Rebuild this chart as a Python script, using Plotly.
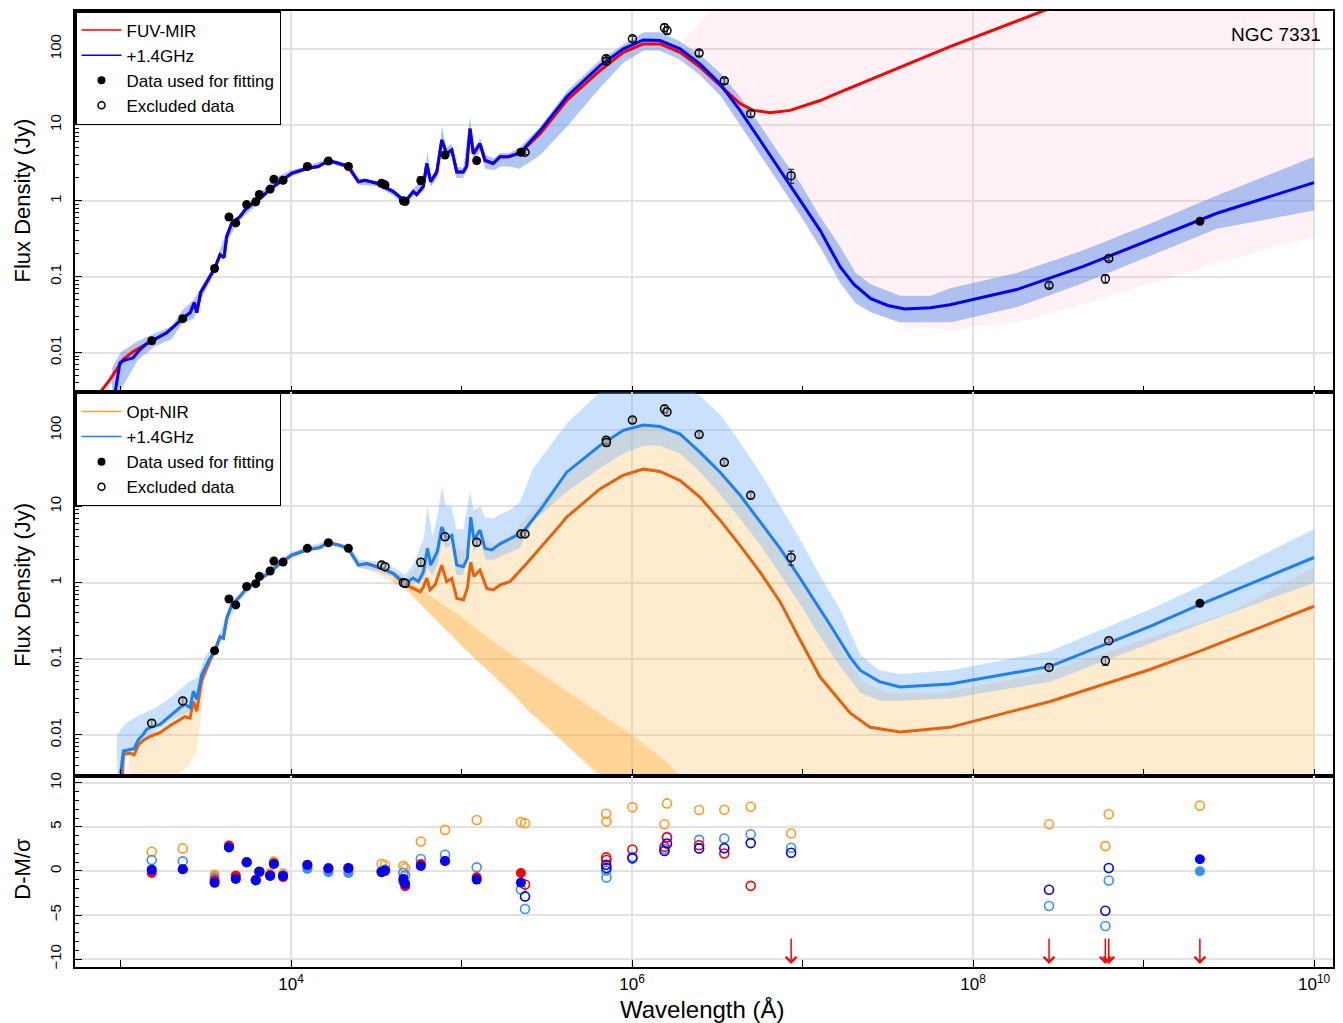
import math
import plotly.graph_objects as go

# ---------------- photometry (Angstrom, Jy) ----------------
wl = [1524, 2317, 3562, 4325, 4740, 5495, 6210, 6520, 7540, 7930, 8980, 12470, 16560, 21700,
      34000, 35560, 45600, 46700, 57700, 80000, 122700, 223000, 235700, 705000, 708000, 1005000,
      1550000, 1603000, 2474000, 3476000, 4966000, 8570000, 2.79e8, 5.97e8, 6.25e8, 2.14e9]
flux = [0.0143, 0.028, 0.128, 0.61, 0.51, 0.89, 0.97, 1.21, 1.42, 1.92, 1.86, 2.82, 3.34, 2.82,
        1.70, 1.62, 1.00, 0.98, 1.85, 4.0, 3.38, 4.35, 4.35, 74, 69, 136,
        190, 174, 88, 38, 14, 2.14, 0.077, 0.094, 0.173, 0.535]
flux_err = [0.0012, 0.0025, 0.01, 0.05, 0.04, 0.06, 0.06, 0.08, 0.08, 0.12, 0.10, 0.15, 0.18, 0.15,
            0.15, 0.12, 0.10, 0.10, 0.22, 0.35, 0.30, 0.30, 0.30, 8, 7, 10,
            22, 18, 7, 3, 1.2, 0.45, 0.006, 0.012, 0.01, 0.03]
used_top = [1]*22 + [0]*13 + [1]
used_mid = [0, 0] + [1]*12 + [0]*21 + [1]

# ---------------- residuals (D-M)/sigma ----------------
res_fuvmir = [-0.23, 0.19, -1.09, 2.89, -0.53, 0.98, -1.0, -0.08, -0.5, 0.85, -0.71, 0.7, 0.3, 0.35,
              -0.1, 0.0, -1.2, -1.73, 0.79, 1.13, -0.71, -0.23, -1.54, 1.54, 1.24, 2.44,
              2.74, 3.8, 2.93, 1.99, -1.69, None, None, None, None, None]
res_fuvmir_radio = [0.15, 0.19, -1.35, 2.67, -0.9, 0.98, -1.09, -0.08, -0.56, 0.79, -0.56, 0.68, 0.30, 0.30,
                    -0.15, 0.04, -0.9, -1.47, 0.56, 1.13, -0.98, -1.32, -2.89, 0.71, 0.34, 1.43,
                    2.26, 3.12, 2.56, 2.59, 3.16, 2.07, -2.14, -4.51, 0.34, 1.32]
res_optnir = [2.18, 2.56, -0.41, 2.8, -0.53, 1.0, -1.0, -0.05, -0.26, 1.09, -0.26, 0.35, 0.1, 0.05,
              0.79, 0.68, 0.55, 0.3, 3.35, 4.66, 5.79, 5.56, 5.41, 6.5, 5.6, 7.22,
              5.3, 7.67, 6.92, 6.95, 7.29, 4.25, 5.3, 2.82, 6.43, 7.41]
res_optnir_radio = [1.24, 1.09, -0.79, 2.7, -0.8, 0.95, -1.05, -0.1, -0.5, 0.85, -0.5, 0.23, -0.15, -0.23,
                    0.0, 0.15, -0.2, -0.5, 1.35, 1.84, 0.41, -2.1, -4.32, 0.04, -0.75, 1.62,
                    2.48, 3.87, 3.53, 3.68, 4.17, 2.63, -3.98, -6.24, -1.09, -0.04]
used_fuvmir = [1]*22 + [0]*14
used_fuvmir_radio = [1]*22 + [0]*13 + [1]
used_optnir = [0, 0] + [1]*12 + [0]*22
used_optnir_radio = [0, 0] + [1]*12 + [0]*21 + [1]

# ---------------- best-fit models (log10 wavelength, log10 flux) ----------------
top_shared_lw = [3.183, 3.271, 3.365, 3.408, 3.433, 3.447, 3.470, 3.525, 3.552, 3.584, 3.607, 3.623, 3.652,
                 3.701, 3.730, 3.779, 3.818, 3.877, 3.935, 4.004, 4.092, 4.160, 4.219, 4.268, 4.336, 4.395,
                 4.434, 4.503, 4.600, 4.669, 4.717, 4.737, 4.776, 4.796, 4.819, 4.855, 4.884, 4.913, 4.943,
                 4.972, 5.011, 5.030, 5.050, 5.069, 5.108, 5.138, 5.186, 5.226, 5.275, 5.343]
top_shared_lf = [-1.846, -1.74, -1.55, -1.475, -1.34, -1.475, -1.21, -0.99, -0.894, -0.71, -0.75, -0.47, -0.294,
                 -0.21, -0.12, -0.03, 0.03, 0.15, 0.25, 0.36, 0.425, 0.45, 0.526, 0.50, 0.45, 0.25,
                 0.27, 0.23, 0.12, -0.01, 0.12, 0.08, 0.19, 0.49, 0.25, 0.38, 0.80, 0.62, 0.67,
                 0.38, 0.38, 0.45, 0.95, 0.62, 0.75, 0.53, 0.49, 0.58, 0.58, 0.63]
red_head_lw = [2.880, 2.938, 3.015, 3.073, 3.132]
red_head_lf = [-2.525, -2.357, -2.09, -1.99, -1.91]
red_tail_lw = [5.460, 5.617, 5.812, 5.949, 6.066, 6.164, 6.282, 6.399, 6.516, 6.633, 6.711, 6.809, 6.927,
               7.103, 7.220, 7.865, 8.412, 8.700]
red_tail_lf = [0.88, 1.32, 1.715, 1.955, 2.066, 2.066, 1.955, 1.76, 1.52, 1.28, 1.19, 1.16, 1.19,
               1.32, 1.43, 2.03, 2.50, 2.75]
blue_head_lw = [2.968, 2.997, 3.026, 3.073, 3.114, 3.150]
blue_head_lf = [-2.525, -2.13, -2.10, -2.07, -1.96, -1.89]
blue_tail_lw = [5.460, 5.617, 5.812, 5.949, 6.066, 6.164, 6.282, 6.399, 6.516, 6.633, 6.750, 6.868, 6.985,
                7.103, 7.220, 7.300, 7.400, 7.500, 7.600, 7.750, 7.865, 8.256, 8.647, 9.038, 9.430, 10.0]
blue_tail_lf = [0.92, 1.37, 1.78, 2.0, 2.118, 2.109, 2.0, 1.80, 1.54, 1.19, 0.80, 0.40, 0.0,
                -0.39, -0.87, -1.10, -1.29, -1.38, -1.425, -1.41, -1.37, -1.17, -0.865, -0.516, -0.165, 0.238]

mid_shared_lw = [3.552, 3.584, 3.603, 3.623, 3.652, 3.701, 3.740, 3.799, 3.877, 3.935, 4.004, 4.092, 4.170,
                 4.219, 4.287, 4.336, 4.395, 4.444, 4.522, 4.600]
mid_shared_lf = [-0.90, -0.71, -0.73, -0.47, -0.29, -0.18, -0.07, 0.01, 0.14, 0.25, 0.36, 0.43, 0.46,
                 0.527, 0.49, 0.45, 0.23, 0.25, 0.196, 0.12]
midb_head_lw = [3.000, 3.017, 3.056, 3.080, 3.105, 3.134, 3.154, 3.183, 3.232, 3.290, 3.349, 3.378, 3.408,
                3.427, 3.447, 3.476, 3.525]
midb_head_lf = [-2.51, -2.21, -2.19, -2.18, -2.06, -1.99, -1.925, -1.895, -1.86, -1.75, -1.64, -1.60, -1.64,
                -1.425, -1.53, -1.21, -0.99]
midb_tail_lw = [4.669, 4.717, 4.747, 4.776, 4.800, 4.819, 4.858, 4.884, 4.913, 4.943, 4.972, 5.011, 5.034,
                5.054, 5.073, 5.108, 5.138, 5.177, 5.226, 5.275, 5.324, 5.362, 5.460, 5.617, 5.812, 5.949,
                6.066, 6.164, 6.282, 6.399, 6.516, 6.633, 6.750, 6.868, 6.985, 7.103, 7.160, 7.280, 7.337,
                7.450, 7.572, 7.865, 8.452, 9.038, 9.330, 10.0]
midb_tail_lf = [-0.01, 0.06, 0.013, 0.14, 0.45, 0.23, 0.405, 0.73, 0.58, 0.62, 0.23, 0.21, 0.32,
                0.86, 0.56, 0.69, 0.45, 0.43, 0.51, 0.56, 0.62, 0.67, 0.95, 1.45, 1.80, 2.0,
                2.07, 2.05, 1.95, 1.71, 1.45, 1.15, 0.80, 0.45, 0.06, -0.34, -0.55, -0.98, -1.15,
                -1.30, -1.37, -1.33, -1.10, -0.575, -0.29, 0.33]
orng_head_lw = [3.010, 3.017, 3.056, 3.080, 3.105, 3.134, 3.183, 3.232, 3.290, 3.349, 3.378, 3.408, 3.427,
                3.447, 3.476, 3.525]
orng_head_lf = [-2.60, -2.25, -2.24, -2.26, -2.13, -2.07, -2.01, -1.97, -1.88, -1.80, -1.76, -1.78, -1.56,
                -1.69, -1.29, -1.02]
orng_tail_lw = [4.669, 4.717, 4.757, 4.776, 4.796, 4.815, 4.845, 4.884, 4.913, 4.943, 4.972, 5.011, 5.034,
                5.054, 5.073, 5.108, 5.148, 5.186, 5.226, 5.284, 5.382, 5.578, 5.617, 5.812, 5.949, 6.066,
                6.164, 6.282, 6.399, 6.516, 6.633, 6.750, 6.868, 6.985, 7.103, 7.279, 7.396, 7.572, 7.865,
                8.452, 9.038, 9.330, 10.0]
orng_tail_lf = [-0.03, -0.075, -0.12, -0.06, 0.06, -0.095, -0.03, 0.23, 0.013, 0.056, -0.205, -0.226, -0.075,
                0.27, 0.08, 0.166, -0.075, -0.095, -0.03, 0.013, 0.25, 0.755, 0.86, 1.23, 1.41, 1.49,
                1.46, 1.34, 1.12, 0.82, 0.49, 0.14, -0.25, -0.75, -1.24, -1.71, -1.90, -1.96, -1.90,
                -1.56, -1.14, -0.90, -0.31]

# ---------------- posterior sample envelopes (log10) ----------------
tband_lw = [2.95, 3.0, 3.1, 3.2, 3.3, 3.36, 3.43, 3.47, 3.55, 3.62, 3.7, 3.8, 3.9, 4.0, 4.1, 4.22, 4.34, 4.4,
            4.5, 4.6, 4.67, 4.72, 4.78, 4.80, 4.82, 4.86, 4.885, 4.91, 4.94, 4.97, 5.01, 5.05, 5.07, 5.11,
            5.14, 5.19, 5.23, 5.28, 5.34, 5.46, 5.62, 5.81, 5.95, 6.07, 6.16, 6.28, 6.40, 6.52, 6.63, 6.75,
            6.87, 6.99, 7.10, 7.22, 7.31, 7.40, 7.57, 7.75, 7.87, 8.26, 8.65, 9.04, 9.43, 10.0]
tband_lo = [-2.6, -2.5, -2.1, -1.92, -1.82, -1.62, -1.55, -1.3, -0.95, -0.55, -0.25, -0.06, 0.2, 0.32, 0.4, 0.49,
            0.42, 0.21, 0.19, 0.07, -0.07, 0.07, 0.13, 0.38, 0.18, 0.32, 0.72, 0.55, 0.6, 0.3, 0.3, 0.8, 0.52,
            0.66, 0.42, 0.40, 0.45, 0.45, 0.42, 0.6, 0.98, 1.48, 1.82, 1.98, 1.98, 1.86, 1.65, 1.38, 1.0, 0.6,
            0.2, -0.2, -0.6, -1.08, -1.35, -1.47, -1.6, -1.6, -1.6, -1.4, -1.08, -0.72, -0.37, -0.13]
tband_hi = [-2.2, -2.0, -1.85, -1.75, -1.65, -1.45, -1.3, -1.15, -0.85, -0.42, -0.17, 0.03, 0.3, 0.4, 0.46, 0.56,
            0.48, 0.29, 0.26, 0.15, 0.02, 0.17, 0.26, 0.65, 0.3, 0.45, 0.98, 0.7, 0.75, 0.45, 0.43, 1.1, 0.68,
            0.82, 0.6, 0.56, 0.63, 0.63, 0.70, 0.97, 1.45, 1.85, 2.06, 2.22, 2.22, 2.1, 1.92, 1.68, 1.38, 1.0,
            0.6, 0.22, -0.2, -0.6, -0.95, -1.1, -1.25, -1.25, -1.15, -0.95, -0.65, -0.3, 0.07, 0.58]
pink_lw = [6.30, 6.40, 6.50, 6.60, 6.75, 6.90, 7.05, 7.20, 7.40, 7.60, 7.90, 8.30, 8.70, 9.10, 9.50, 10.0]
pink_lo = [1.9, 1.68, 1.45, 1.1, 0.6, 0.1, -0.45, -0.95, -1.45, -1.66, -1.7, -1.58, -1.33, -1.05, -0.78, -0.47]
pink_hi = [2.1, 2.35, 2.6, 2.6, 2.6, 2.6, 2.6, 2.6, 2.6, 2.6, 2.6, 2.6, 2.6, 2.6, 2.6, 2.6]

mband_lw = [2.98, 3.03, 3.1, 3.2, 3.3, 3.4, 3.45, 3.5, 3.55, 3.62, 3.7, 3.8, 3.9, 4.0, 4.1, 4.22, 4.34, 4.40,
            4.5, 4.6, 4.67, 4.72, 4.78, 4.80, 4.83, 4.86, 4.885, 4.91, 4.94, 4.97, 5.01, 5.05, 5.07, 5.11,
            5.14, 5.19, 5.23, 5.28, 5.34, 5.42, 5.62, 5.81, 5.95, 6.07, 6.16, 6.28, 6.40, 6.52, 6.63, 6.75,
            6.87, 6.99, 7.10, 7.22, 7.34, 7.45, 7.57, 7.87, 8.45, 9.04, 9.33, 10.0]
mband_lo = [-2.6, -2.3, -2.15, -1.95, -1.8, -1.7, -1.6, -1.1, -0.95, -0.52, -0.22, 0.0, 0.18, 0.33, 0.41, 0.5,
            0.42, 0.2, 0.15, 0.07, -0.05, 0.0, 0.05, 0.2, 0.1, 0.25, 0.55, 0.45, 0.5, 0.1, 0.1, 0.7, 0.4, 0.55,
            0.3, 0.3, 0.35, 0.4, 0.45, 0.8, 1.2, 1.5, 1.7, 1.8, 1.8, 1.7, 1.45, 1.15, 0.85, 0.5,
            0.1, -0.3, -0.7, -1.1, -1.45, -1.55, -1.55, -1.52, -1.3, -0.8, -0.55, -0.0]
mband_hi = [-2.0, -1.85, -1.75, -1.65, -1.5, -1.3, -1.25, -0.95, -0.85, -0.42, -0.15, 0.06, 0.26, 0.4, 0.47, 0.56,
            0.48, 0.3, 0.28, 0.2, 0.1, 0.25, 0.6, 1.0, 0.6, 0.9, 1.25, 1.0, 1.0, 0.7, 0.7, 1.2, 0.95, 1.0,
            0.85, 0.85, 0.9, 0.95, 1.05, 1.5, 2.1, 2.5, 2.7, 2.8, 2.8, 2.65, 2.45, 2.2, 1.85, 1.45,
            1.0, 0.55, 0.1, -0.35, -0.95, -1.15, -1.2, -1.15, -0.9, -0.35, -0.05, 0.7]
ofan_lw = [3.05, 3.2, 3.3, 3.4, 3.45, 3.5, 3.55, 3.7, 3.9, 4.1, 4.22, 4.34, 4.4, 4.5, 4.6, 4.67, 4.8, 4.9, 5.0,
           5.1, 5.2, 5.3, 5.4, 5.6, 5.8, 5.95, 6.1, 6.25, 6.4, 6.52, 6.63, 6.75, 6.87, 6.99, 7.1, 7.22, 7.35,
           7.5, 7.8, 8.4, 9.0, 9.5, 10.0]
ofan_lo = [-2.6, -2.6, -2.6, -2.4, -2.2, -1.2, -0.98, -0.23, 0.19, 0.41, 0.5, 0.42, 0.2, 0.12, 0.0, -0.08, -0.38,
           -0.6, -0.83, -1.05, -1.25, -1.45, -1.7, -2.1, -2.55, -2.6, -2.6, -2.6, -2.6, -2.6, -2.6, -2.6, -2.6,
           -2.6, -2.6, -2.6, -2.6, -2.6, -2.6, -2.6, -2.6, -2.6, -2.6]
ofan_hi = [-2.15, -1.95, -1.8, -1.65, -1.5, -1.05, -0.88, -0.17, 0.26, 0.46, 0.55, 0.47, 0.26, 0.22, 0.14, 0.05,
           0.35, 0.55, 0.4, 0.6, 0.5, 0.65, 0.9, 1.4, 1.8, 2.0, 2.1, 1.98, 1.72, 1.45, 1.15, 0.8, 0.45, 0.05,
           -0.35, -0.85, -1.3, -1.45, -1.45, -1.2, -0.75, -0.4, 0.2]
odense_lw = [4.60, 4.67, 4.8, 5.0, 5.2, 5.4, 5.6, 5.8, 6.0, 6.2, 6.35]
odense_lo = [0.0, -0.08, -0.38, -0.83, -1.25, -1.7, -2.1, -2.5, -2.7, -2.7, -2.7]
odense_hi = [0.14, 0.05, -0.15, -0.45, -0.8, -1.1, -1.4, -1.7, -2.0, -2.35, -2.7]

# ---------------- styling ----------------
RED, BLUE = '#FF0000', '#0000FF'
ORANGE_LINE, ORANGE_LEG = '#E8610C', '#F7A235'
DODGER = '#1E80F4'
RES_ORANGE, RES_DODGER = '#FF9A1F', '#3A8EFF'
FONT = 'Liberation Sans, Arial, Helvetica, sans-serif'

fig = go.Figure()


def pw(vals):
    return [10 ** v for v in vals]


def band(lw, lo, hi, color, xa, ya):
    x = pw(lw) + pw(lw[::-1])
    y = pw(hi) + pw(lo[::-1])
    return go.Scatter(x=x, y=y, mode='lines', fill='toself', fillcolor=color,
                      line=dict(width=0, color='rgba(0,0,0,0)'), hoverinfo='skip',
                      showlegend=False, xaxis=xa, yaxis=ya)


def line(lw, lf, color, width, xa, ya):
    return go.Scatter(x=pw(lw), y=pw(lf), mode='lines', line=dict(color=color, width=width),
                      showlegend=False, xaxis=xa, yaxis=ya, hoverinfo='skip')


def pick(vals, flags, want):
    return [v if f == want else None for v, f in zip(vals, flags)]


# ---- top panel ----
fig.add_trace(band(pink_lw, pink_lo, pink_hi, 'rgba(255,150,175,0.13)', 'x', 'y'))
fig.add_trace(band(tband_lw, tband_lo, tband_hi, 'rgba(110,150,235,0.55)', 'x', 'y'))
fig.add_trace(line(red_head_lw + top_shared_lw + red_tail_lw,
                   red_head_lf + top_shared_lf + red_tail_lf, RED, 3, 'x', 'y'))
fig.add_trace(line(blue_head_lw + top_shared_lw + blue_tail_lw,
                   blue_head_lf + top_shared_lf + blue_tail_lf, BLUE, 3, 'x', 'y'))

# ---- middle panel ----
fig.add_trace(band(ofan_lw, ofan_lo, ofan_hi, 'rgba(255,185,80,0.28)', 'x2', 'y2'))
fig.add_trace(band(odense_lw, odense_lo, odense_hi, 'rgba(255,170,50,0.35)', 'x2', 'y2'))
fig.add_trace(band(mband_lw, mband_lo, mband_hi, 'rgba(120,180,250,0.40)', 'x2', 'y2'))
fig.add_trace(line(orng_head_lw + mid_shared_lw + orng_tail_lw,
                   orng_head_lf + mid_shared_lf + orng_tail_lf, ORANGE_LINE, 3, 'x2', 'y2'))
fig.add_trace(line(midb_head_lw + mid_shared_lw + midb_tail_lw,
                   midb_head_lf + mid_shared_lf + midb_tail_lf, DODGER, 3, 'x2', 'y2'))

# ---- photometry in both panels ----
for xa, ya, flags, open_fill in (('x', 'y', used_top, 'rgba(255,255,255,0)'),
                                 ('x2', 'y2', used_mid, 'rgba(190,190,190,0.55)')):
    for want in (0, 1):
        fig.add_trace(go.Scatter(
            x=wl, y=pick(flux, flags, want), mode='markers',
            error_y=dict(type='data', array=flux_err, color='#333333', thickness=1.2, width=3),
            marker=dict(symbol='circle', size=9 if want else 8,
                        color='black' if want else open_fill,
                        line=dict(color='black', width=0 if want else 1.5)),
            showlegend=False, xaxis=xa, yaxis=ya, hoverinfo='skip'))

# ---- residual panel ----
for res, flags, col in ((res_optnir, used_optnir, RES_ORANGE),
                        (res_optnir_radio, used_optnir_radio, RES_DODGER),
                        (res_fuvmir, used_fuvmir, RED),
                        (res_fuvmir_radio, used_fuvmir_radio, BLUE)):
    fig.add_trace(go.Scatter(x=wl, y=pick(res, flags, 0), mode='markers',
                             marker=dict(symbol='circle-open', size=9, color=col, line=dict(width=1.6)),
                             showlegend=False, xaxis='x3', yaxis='y3', hoverinfo='skip'))
    fig.add_trace(go.Scatter(x=wl, y=pick(res, flags, 1), mode='markers',
                             marker=dict(symbol='circle', size=10, color=col),
                             showlegend=False, xaxis='x3', yaxis='y3', hoverinfo='skip'))

annotations = []
for w, r in zip(wl, res_fuvmir):
    if r is None:  # residual below the plotted range -> arrow
        lx = math.log10(w)
        annotations.append(dict(x=lx, y=-10.55, ax=lx, ay=-7.5, xref='x3', yref='y3',
                                axref='x3', ayref='y3', showarrow=True, arrowhead=4,
                                arrowsize=1.4, arrowwidth=1.5, arrowcolor=RED, text=''))

# ---- legends (dummy entries) ----
for name, kw, leg in (('FUV-MIR', dict(mode='lines', line=dict(color=RED, width=1.5)), 'legend'),
                      ('+1.4GHz', dict(mode='lines', line=dict(color=BLUE, width=1.5)), 'legend'),
                      ('Data used for fitting', dict(mode='markers', marker=dict(color='black', size=8)), 'legend'),
                      ('Excluded data', dict(mode='markers', marker=dict(symbol='circle-open', color='black', size=7, line=dict(width=1.5))), 'legend'),
                      ('Opt-NIR', dict(mode='lines', line=dict(color=ORANGE_LEG, width=1.5)), 'legend2'),
                      ('+1.4GHz', dict(mode='lines', line=dict(color=DODGER, width=1.5)), 'legend2'),
                      ('Data used for fitting', dict(mode='markers', marker=dict(color='black', size=8)), 'legend2'),
                      ('Excluded data', dict(mode='markers', marker=dict(symbol='circle-open', color='black', size=7, line=dict(width=1.5))), 'legend2')):
    fig.add_trace(go.Scatter(x=[None], y=[None], name=name, legend=leg, showlegend=True,
                             xaxis='x' if leg == 'legend' else 'x2',
                             yaxis='y' if leg == 'legend' else 'y2', **kw))

# ---- axes ----
XR = [2.733, 10.111]
ymin_vals = [m * 10 ** k for k in range(-3, 3) for m in range(2, 10)]
xcommon = dict(type='log', range=XR, showline=True, linecolor='black', linewidth=1.5, mirror=True,
               ticks='inside', ticklen=7, tickwidth=1.3, tickcolor='black',
               tickvals=[1e4, 1e6, 1e8, 1e10], showgrid=True, gridcolor='#E2E2E2', gridwidth=1.5,
               zeroline=False,
               minor=dict(tickvals=[1e3, 1e5, 1e7, 1e9], ticks='inside', ticklen=7, tickwidth=1.3,
                          tickcolor='black', showgrid=False))
ycommon = dict(type='log', showline=True, linecolor='black', linewidth=1.5, mirror=True,
               ticks='inside', ticklen=7, tickwidth=1.3, tickcolor='black',
               tickvals=[0.01, 0.1, 1, 10, 100], ticktext=['0.01', '0.1', '1', '10', '100'],
               tickangle=-90, tickfont=dict(size=15, family=FONT, color='black'),
               ticklabelstandoff=6,
               showgrid=True, gridcolor='#E2E2E2', gridwidth=1.5, zeroline=False,
               minor=dict(tickvals=ymin_vals, ticks='inside', ticklen=4, tickwidth=1, tickcolor='black',
                          showgrid=False))
legcommon = dict(x=0, xanchor='left', yanchor='top', bgcolor='white', bordercolor='black',
                 borderwidth=1.5, font=dict(size=17, family=FONT, color='black'), tracegroupgap=0,
                 itemwidth=40)

fig.update_layout(
    width=1343, height=1023, margin=dict(l=75, r=10, t=7, b=56),
    paper_bgcolor='white', plot_bgcolor='white',
    font=dict(family=FONT, color='black'),
    xaxis=dict(**xcommon, anchor='y', showticklabels=False, matches='x3'),
    xaxis2=dict(**xcommon, anchor='y2', showticklabels=False, matches='x3'),
    xaxis3=dict(**xcommon, anchor='y3', showticklabels=True,
                ticktext=['10<sup>4</sup>', '10<sup>6</sup>', '10<sup>8</sup>', '10<sup>10</sup>'],
                tickfont=dict(size=17, family=FONT, color='black'), ticklabelstandoff=1),
    yaxis=dict(**ycommon, domain=[0.601, 1.0], range=[-2.525, 2.499]),
    yaxis2=dict(**ycommon, domain=[0.2, 0.601], range=[-2.536, 2.497]),
    yaxis3=dict(showline=True, linecolor='black', linewidth=1.5, mirror=True, domain=[0.0, 0.2],
                range=[-10.9, 10.8], ticks='inside', ticklen=7, tickwidth=1.3, tickcolor='black',
                tickvals=[-10, -5, 0, 5, 10], ticktext=['\u221210', '\u22125', '0', '5', '10'],
                tickangle=-90, tickfont=dict(size=15, family=FONT, color='black'), ticklabelstandoff=6,
                showgrid=True, gridcolor='#E2E2E2', gridwidth=1.5, zeroline=False,
                minor=dict(dtick=1, ticks='inside', ticklen=4, tickwidth=1, tickcolor='black', showgrid=False)),
    legend=dict(**legcommon, y=1.0),
    legend2=dict(**legcommon, y=0.601),
    showlegend=True,
)

annotations += [
    dict(text='NGC 7331', x=0.992, y=0.975, xref='paper', yref='paper', xanchor='right', yanchor='middle',
         showarrow=False, font=dict(size=19, family=FONT, color='black')),
    dict(text='Flux Density (Jy)', x=-0.042, y=0.802, xref='paper', yref='paper', textangle=-90,
         xanchor='center', yanchor='middle', showarrow=False, font=dict(size=22, family=FONT, color='black')),
    dict(text='Flux Density (Jy)', x=-0.042, y=0.40, xref='paper', yref='paper', textangle=-90,
         xanchor='center', yanchor='middle', showarrow=False, font=dict(size=22, family=FONT, color='black')),
    dict(text='D-M/\u03c3', x=-0.042, y=0.103, xref='paper', yref='paper', textangle=-90,
         xanchor='center', yanchor='middle', showarrow=False, font=dict(size=22, family=FONT, color='black')),
    dict(text='Wavelength (\u00c5)', x=0.499, y=-0.0445, xref='paper', yref='paper',
         xanchor='center', yanchor='middle', showarrow=False, font=dict(size=24, family=FONT, color='black')),
]
fig.update_layout(annotations=annotations)

fig.write_html('out.html')
